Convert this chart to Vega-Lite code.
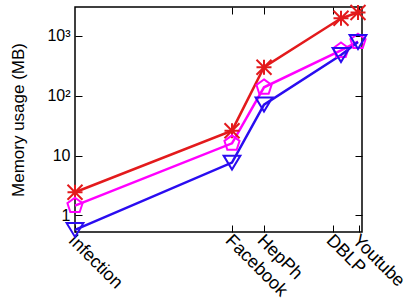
{
  "$schema": "https://vega.github.io/schema/vega-lite/v6.json",
  "width": 287,
  "height": 225,
  "autosize": {"type": "none"},
  "padding": {"left": 75, "top": 7, "right": 47, "bottom": 74},
  "config": {
    "font": "Liberation Sans",
    "view": {"stroke": "#000000", "strokeWidth": 1.5},
    "axis": {
      "grid": false,
      "domain": false,
      "tickColor": "#000000",
      "tickWidth": 1,
      "labelColor": "#000000",
      "titleColor": "#000000",
      "labelFontSize": 16,
      "titleFontSize": 17,
      "titleFontWeight": "normal"
    }
  },
  "data": {
    "values": [
      {"series": "S1", "graph": "Infection", "x": 0, "mem": 2.43},
      {"series": "S1", "graph": "Facebook", "x": 157, "mem": 26},
      {"series": "S1", "graph": "HepPh", "x": 189, "mem": 299},
      {"series": "S1", "graph": "DBLP", "x": 266, "mem": 1970},
      {"series": "S1", "graph": "Youtube", "x": 283, "mem": 2460},
      {"series": "S2", "graph": "Infection", "x": 0, "mem": 1.45},
      {"series": "S2", "graph": "Facebook", "x": 157, "mem": 16},
      {"series": "S2", "graph": "HepPh", "x": 189, "mem": 138},
      {"series": "S2", "graph": "DBLP", "x": 266, "mem": 570},
      {"series": "S2", "graph": "Youtube", "x": 283, "mem": 800},
      {"series": "S3", "graph": "Infection", "x": 0, "mem": 0.57},
      {"series": "S3", "graph": "Facebook", "x": 157, "mem": 7.6},
      {"series": "S3", "graph": "HepPh", "x": 189, "mem": 71},
      {"series": "S3", "graph": "DBLP", "x": 266, "mem": 480},
      {"series": "S3", "graph": "Youtube", "x": 283, "mem": 790}
    ]
  },
  "layer": [
    {
      "mark": {"type": "line", "strokeWidth": 2.5},
      "encoding": {
        "x": {
          "field": "x", "type": "quantitative",
          "scale": {"domain": [0, 287], "nice": false, "zero": false},
          "axis": {
            "orient": "bottom",
            "title": null,
            "values": [0, 157, 189, 258, 284],
            "labelExpr": "datum.value == 0 ? 'Infection' : datum.value == 157 ? 'Facebook' : datum.value == 189 ? 'HepPh' : datum.value == 258 ? 'DBLP' : 'Youtube'",
            "tickSize": -7,
            "labelAngle": 45,
            "labelAlign": "left",
            "labelBaseline": "top",
            "labelFontSize": 18,
            "labelPadding": 6,
            "labelOffset": 2,
            "labelFlush": false,
            "labelOverlap": false,
            "labelBound": false
          }
        },
        "y": {
          "field": "mem", "type": "quantitative",
          "scale": {"type": "log", "domain": [0.526, 3040], "nice": false},
          "axis": {
            "orient": "left",
            "title": "Memory usage (MB)",
            "values": [1, 10, 100, 1000],
            "labelExpr": "datum.value == 1 ? '1' : datum.value == 10 ? '10' : datum.value == 100 ? '10²' : '10³'",
            "tickSize": -7,
            "labelPadding": 12,
            "titlePadding": 19,
            "labelFlush": false,
            "labelOverlap": false
          }
        },
        "color": {
          "field": "series", "type": "nominal",
          "scale": {"domain": ["S1", "S2", "S3"], "range": ["#e31a1c", "#ff00ff", "#2a0cf0"]},
          "legend": null
        }
      }
    },
    {
      "mark": {"type": "point", "filled": false, "strokeWidth": 2, "opacity": 1},
      "encoding": {
        "x": {"field": "x", "type": "quantitative", "axis": null},
        "y": {"field": "mem", "type": "quantitative", "axis": null},
        "color": {"field": "series", "type": "nominal", "legend": null},
        "shape": {
          "field": "series", "type": "nominal",
          "scale": {
            "domain": ["S1", "S2", "S3"],
            "range": [
              "M-1,0L1,0M0,-1L0,1M-1,-1L1,1M-1,1L1,-1",
              "M0,-1L0.951,-0.309L0.588,0.809L-0.588,0.809L-0.951,-0.309Z",
              "M-1,-0.833L1,-0.833L0,0.833Z"
            ]
          },
          "legend": null
        },
        "size": {
          "field": "series", "type": "ordinal",
          "scale": {"domain": ["S1", "S2", "S3"], "range": [225, 282, 324]},
          "legend": null
        }
      }
    },
    {
      "mark": {"type": "point", "opacity": 0},
      "encoding": {
        "x": {
          "field": "x", "type": "quantitative",
          "axis": {"orient": "top", "title": null, "labels": false, "values": [157, 189, 258, 284], "tickSize": -7}
        },
        "y": {
          "field": "mem", "type": "quantitative",
          "axis": {"orient": "right", "title": null, "labels": false, "values": [1, 10, 100, 1000], "tickSize": -7}
        }
      }
    }
  ],
  "resolve": {"axis": {"x": "independent", "y": "independent"}}
}
